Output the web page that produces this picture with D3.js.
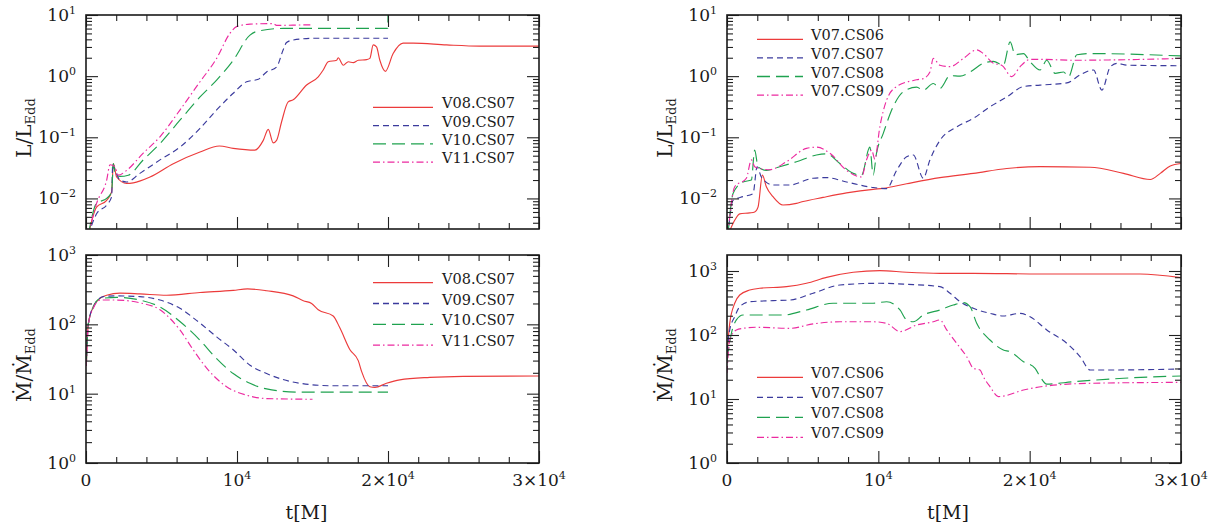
<!DOCTYPE html>
<html><head><meta charset="utf-8">
<script src="https://cdn.jsdelivr.net/npm/d3@7"></script>
<style>
body{margin:0;background:#fff}
svg{display:block}
text{font-family:"DejaVu Serif",serif;fill:#1a1a1a}
</style>
</head><body>
<svg id="c" width="1225" height="526"></svg>
<script>
// ---------------- DATA ----------------
const leftNames  = ["V08.CS07","V09.CS07","V10.CS07","V11.CS07"];
const rightNames = ["V07.CS06","V07.CS07","V07.CS08","V07.CS09"];

const xTickValues = [0, 10000, 20000, 30000];
const xTickBase   = ["0", "10", "2×10", "3×10"];
const xTickExp    = ["", "4", "4", "4"];

const lumTickValues = [10, 1, 0.1, 0.01];
const lumTickExp    = ["1", "0", "−1", "−2"];
const mdotTickValues = [1000, 100, 10, 1];
const mdotTickExp    = ["3", "2", "1", "0"];

// Top-left: L/L_Edd  [t, value]
const tlV08 = [[150,0.0025],[700,0.0072],[1370,0.0093],[1700,0.0129],[1810,0.037],[2030,0.0224],[2690,0.0176],[3130,0.018],[4240,0.0224],[5780,0.037],[7550,0.0575],[8830,0.072],[9750,0.066],[11190,0.0617],[11740,0.089],[12070,0.135],[12400,0.081],[12620,0.089],[12950,0.178],[13390,0.38],[13720,0.41],[14610,0.716],[15380,0.977],[15710,1.26],[16040,1.72],[16600,1.82],[16700,2.0],[17040,1.51],[17370,1.72],[17700,1.66],[18030,1.82],[18580,1.86],[18800,1.95],[19020,3.24],[19240,3.0],[19460,1.82],[19830,1.2],[20340,2.34],[21000,3.47],[21670,3.47],[23880,3.24],[26080,3.1],[30000,3.1]];
const tlV09 = [[150,0.0025],[700,0.0056],[1370,0.0078],[1700,0.0107],[1770,0.037],[1920,0.0295],[2250,0.02],[2690,0.0186],[3570,0.0257],[4900,0.0427],[6220,0.069],[7550,0.14],[8650,0.28],[9750,0.525],[10640,0.81],[11410,0.89],[11960,1.17],[12620,1.41],[13060,2.7],[13280,3.55],[13720,3.9],[15270,4.17],[20000,4.17]];
const tlV10 = [[150,0.0025],[700,0.0083],[1370,0.01],[1700,0.0129],[1810,0.037],[1920,0.025],[2250,0.0229],[2800,0.024],[3790,0.0427],[4900,0.079],[6220,0.19],[7550,0.457],[8650,0.86],[9750,1.82],[10860,4.68],[11300,5.37],[13060,6.03],[19990,6.03],[20000,11]];
const tlV11 = [[150,0.0025],[700,0.0083],[1370,0.02],[1590,0.0355],[1920,0.033],[2140,0.024],[2690,0.0288],[3790,0.055],[4900,0.102],[6220,0.279],[7550,0.81],[8650,1.95],[9530,5.0],[9970,6.46],[10860,7.08],[12400,7.24],[12620,6.76],[14830,6.9],[15000,6.9]];

// Bottom-left: Mdot/Mdot_Edd
const blV08 = [[20,25],[150,100],[480,178],[930,237],[1370,263],[2250,282],[3570,275],[5340,263],[7550,288],[9750,309],[10700,324],[11960,305],[13720,257],[14390,219],[14940,200],[15380,162],[16370,132],[16810,89],[17480,43],[18030,30],[18250,21],[18800,12.6],[19130,12.3],[19900,14.1],[20780,15.8],[22770,17.2],[24980,17.8],[30000,18]];
const blV09 = [[20,25],[150,100],[480,178],[1150,251],[2030,257],[3570,251],[4900,224],[6220,170],[7550,104],[8650,66],[9750,43],[10860,25.7],[11960,19.5],[14170,14.1],[16370,13.0],[20000,13.0]];
const blV10 = [[20,25],[150,100],[480,178],[930,234],[2030,245],[3570,224],[4900,178],[6220,110],[7550,59],[8650,32],[9750,19.5],[10860,14.1],[11960,11.7],[14170,10.5],[20000,10.5]];
const blV11 = [[20,25],[150,100],[480,170],[930,224],[2030,224],[3570,204],[4900,162],[6220,83],[7100,43],[7990,23.4],[9310,12.6],[10640,9.5],[11960,8.5],[15000,8.3]];

// Top-right: L/L_Edd
const trCS06 = [[60,0.0025],[510,0.0044],[840,0.0056],[1500,0.0058],[1830,0.006],[2050,0.0072],[2340,0.024],[2600,0.0155],[3040,0.0107],[3700,0.0078],[4590,0.0083],[5030,0.0089],[6350,0.0104],[7900,0.0123],[9660,0.0141],[10320,0.0146],[11870,0.0174],[14070,0.0219],[16280,0.0257],[18490,0.0309],[20690,0.0331],[24000,0.0324],[26200,0.0257],[27970,0.0204],[28630,0.0257],[29290,0.0339],[30000,0.0372]];
const trCS07 = [[60,0.0025],[400,0.0093],[1060,0.0107],[1720,0.012],[1990,0.033],[2270,0.0224],[3040,0.0166],[4150,0.0166],[5690,0.0214],[6580,0.0219],[7900,0.0186],[9660,0.0151],[10550,0.0145],[11210,0.0288],[11870,0.0479],[12310,0.0513],[12970,0.0214],[13410,0.0427],[14070,0.089],[15180,0.148],[16280,0.204],[17380,0.316],[18490,0.457],[19590,0.676],[20690,0.714],[22460,0.776],[23340,1.05],[24220,1.26],[24770,0.59],[25320,1.41],[25770,1.62],[26430,1.51],[30000,1.48]];
const trCS08 = [[60,0.0025],[400,0.012],[1060,0.0186],[1610,0.02],[1830,0.0617],[2050,0.033],[2600,0.0288],[3480,0.033],[4590,0.0398],[5910,0.0513],[6580,0.0537],[7460,0.0372],[8340,0.0257],[8890,0.024],[9440,0.069],[9660,0.024],[9880,0.055],[10320,0.115],[10980,0.316],[11650,0.556],[12530,0.66],[12970,0.589],[13630,0.759],[14070,0.631],[14740,1.02],[15400,1.0],[16060,1.17],[16940,1.62],[17600,1.74],[18260,1.51],[18710,3.63],[19040,2.24],[19590,2.34],[20030,1.72],[20690,1.26],[21130,1.82],[21680,1.11],[22240,1.17],[22570,0.98],[23120,2.24],[24000,2.34],[30000,2.14]];
const trCS09 = [[60,0.0025],[510,0.0155],[1280,0.0214],[1610,0.0427],[1830,0.033],[2160,0.0309],[2820,0.0295],[3930,0.0398],[5250,0.066],[5910,0.069],[6800,0.055],[7900,0.0288],[8890,0.0224],[9220,0.0427],[9560,0.0617],[9770,0.0437],[10100,0.148],[10550,0.407],[11210,0.676],[12530,0.871],[12970,0.912],[13410,1.17],[13630,1.95],[14070,1.51],[14740,1.43],[15620,1.95],[16500,2.69],[16940,2.34],[17600,1.62],[18150,1.51],[18820,0.98],[19370,1.43],[20030,1.88],[20690,1.88],[22900,1.82],[30000,1.95]];

// Bottom-right: Mdot/Mdot_Edd
const brCS06 = [[0,49],[180,152],[510,313],[840,422],[1500,504],[2160,537],[3930,569],[5250,643],[6580,795],[8340,955],[10100,1012],[11870,955],[14070,920],[16280,920],[20690,898],[27300,898],[30000,786]];
const brCS07 = [[0,54],[180,120],[510,193],[840,277],[1500,331],[3040,344],[4150,352],[5690,449],[7460,604],[10100,643],[11870,620],[14070,569],[14740,449],[15400,331],[16280,261],[17380,218],[18260,198],[19370,218],[20030,193],[21130,120],[22460,74],[23340,45.7],[24000,28.4],[25100,28.4],[30000,29.4]];
const brCS08 = [[0,40],[290,106],[620,172],[1060,205],[1940,205],[3700,205],[5250,246],[7010,313],[9660,313],[10550,331],[11430,246],[11870,172],[12310,161],[12970,205],[14070,246],[14950,294],[15620,320],[16060,277],[16500,152],[17380,83.5],[18260,58.3],[18710,54.9],[19590,38.3],[20360,30.2],[20690,22.3],[21130,17.1],[22900,18.6],[26200,21.1],[30000,22.9]];
const brCS09 = [[0,25.5],[180,83.5],[620,120],[1060,127],[1940,132],[4150,127],[5690,149],[7460,161],[9660,161],[10550,152],[11430,113],[12530,143],[13630,161],[14070,172],[14520,120],[15180,74],[15840,45.7],[16280,30.2],[16720,28.4],[16940,22.3],[17380,15.6],[17930,10.9],[18260,11.1],[19590,13.8],[21130,16],[24000,17.6],[30000,18.2]];

// ---------------- STYLE ----------------
const colors = ["#ec3b3b", "#3b3b9d", "#1fa24f", "#ec2aa0"];
const dashes = [null, "6,4", "13,6", "7,3,1.5,3"];

const svg = d3.select("#c");

function minorLogTicks(lo, hi) {
  const out = [];
  for (let d = Math.floor(Math.log10(lo)); d <= Math.ceil(Math.log10(hi)); d++) {
    for (let k = 2; k <= 9; k++) {
      const v = k * Math.pow(10, d);
      if (v > lo * 1.0001 && v < hi * 0.9999) out.push(v);
    }
  }
  return out;
}

let clipId = 0;
function panel(p) {
  const g = svg.append("g");
  const x = d3.scaleLinear().domain([0, 30000]).range([p.x0, p.x1]);
  const y = d3.scaleLog().domain(p.yDomain).range([p.y1, p.y0]);

  const id = "clip" + (clipId++);
  svg.append("clipPath").attr("id", id).append("rect")
    .attr("x", p.x0).attr("y", p.y0).attr("width", p.x1 - p.x0).attr("height", p.y1 - p.y0);

  // series
  const line = d3.line().x(d => x(d[0])).y(d => y(d[1])).curve(d3.curveMonotoneX);
  const cg = g.append("g").attr("clip-path", `url(#${id})`);
  p.series.forEach((s, i) => {
    cg.append("path").attr("d", line(s)).attr("fill", "none")
      .attr("stroke", colors[i]).attr("stroke-width", 1.15)
      .attr("stroke-dasharray", dashes[i]);
  });

  // ticks
  const xMinor = d3.range(2000, 30000, 2000).filter(v => v % 10000 !== 0);
  const yMajor = p.yTicks.filter(v => v >= p.yDomain[0] && v <= p.yDomain[1]);
  const yMinor = minorLogTicks(p.yDomain[0], p.yDomain[1]);
  const tickStyle = sel => { sel.select(".domain").remove(); sel.selectAll("line").attr("stroke", "#222").attr("stroke-width", 1.1); sel.selectAll("text").remove(); };

  g.append("g").attr("transform", `translate(0,${p.y1})`).call(d3.axisBottom(x).tickValues(xTickValues).tickSize(-12)).call(tickStyle);
  g.append("g").attr("transform", `translate(0,${p.y1})`).call(d3.axisBottom(x).tickValues(xMinor).tickSize(-6)).call(tickStyle);
  g.append("g").attr("transform", `translate(0,${p.y0})`).call(d3.axisTop(x).tickValues(xTickValues).tickSize(-12)).call(tickStyle);
  g.append("g").attr("transform", `translate(0,${p.y0})`).call(d3.axisTop(x).tickValues(xMinor).tickSize(-6)).call(tickStyle);
  g.append("g").attr("transform", `translate(${p.x0},0)`).call(d3.axisLeft(y).tickValues(yMajor).tickSize(-12)).call(tickStyle);
  g.append("g").attr("transform", `translate(${p.x0},0)`).call(d3.axisLeft(y).tickValues(yMinor).tickSize(-6)).call(tickStyle);
  g.append("g").attr("transform", `translate(${p.x1},0)`).call(d3.axisRight(y).tickValues(yMajor).tickSize(-12)).call(tickStyle);
  g.append("g").attr("transform", `translate(${p.x1},0)`).call(d3.axisRight(y).tickValues(yMinor).tickSize(-6)).call(tickStyle);

  // frame
  g.append("rect").attr("x", p.x0).attr("y", p.y0).attr("width", p.x1 - p.x0).attr("height", p.y1 - p.y0)
    .attr("fill", "none").attr("stroke", "#1a1a1a").attr("stroke-width", 1.6);

  // y tick labels
  p.yTicks.forEach((v, i) => {
    const t = g.append("text").attr("x", p.x0 - 10).attr("y", y(v) + 6)
      .attr("text-anchor", "end").attr("font-size", 17);
    t.append("tspan").text("10");
    t.append("tspan").attr("dy", -7).attr("font-size", 11).text(p.yExp[i]);
  });

  // x tick labels
  if (p.xLabels) {
    xTickValues.forEach((v, i) => {
      const t = g.append("text").attr("x", x(v)).attr("y", p.y1 + 23)
        .attr("text-anchor", "middle").attr("font-size", 17);
      t.append("tspan").text(xTickBase[i]);
      if (xTickExp[i]) t.append("tspan").attr("dy", -7).attr("font-size", 11).text(xTickExp[i]);
    });
    g.append("text").attr("x", (p.x0 + p.x1) / 2 - 6).attr("y", 519)
      .attr("text-anchor", "middle").attr("font-size", 19).text("t[M]");
  }

  // y title
  const cy = (p.y0 + p.y1) / 2 + 6;
  const yt = g.append("text").attr("transform", `translate(${p.x0 - 55},${cy}) rotate(-90)`)
    .attr("text-anchor", "middle").attr("font-size", 20);
  yt.append("tspan").text(p.yTitle);
  yt.append("tspan").attr("dy", 4).attr("font-size", 13).text("Edd");

  // legend
  p.names.forEach((n, i) => {
    const ly = p.legend.y + i * p.legend.dy;
    g.append("line").attr("x1", p.legend.x1).attr("x2", p.legend.x2).attr("y1", ly).attr("y2", ly)
      .attr("stroke", colors[i]).attr("stroke-width", 1.3).attr("stroke-dasharray", dashes[i]);
    g.append("text").attr("x", p.legend.tx).attr("y", ly + 1).attr("font-size", 14.5).text(n);
  });
}

const lumDomain = [Math.pow(10, -2.5), 10];
const mdotDomain = [1, 1000];
const mdotDomainRight = [1, Math.pow(10, 3.25)];

panel({x0: 86, x1: 539, y0: 15, y1: 229, yDomain: lumDomain, yTicks: lumTickValues, yExp: lumTickExp,
  series: [tlV08, tlV09, tlV10, tlV11], names: leftNames, yTitle: "L/L", xLabels: false,
  legend: {x1: 373, x2: 433, tx: 442, y: 107.3, dy: 18.3}});
panel({x0: 86, x1: 539, y0: 255, y1: 463, yDomain: mdotDomain, yTicks: mdotTickValues, yExp: mdotTickExp,
  series: [blV08, blV09, blV10, blV11], names: leftNames, yTitle: "Ṁ/Ṁ", xLabels: true,
  legend: {x1: 373, x2: 433, tx: 442, y: 282.7, dy: 20.8}});
panel({x0: 727, x1: 1181, y0: 15, y1: 229, yDomain: lumDomain, yTicks: lumTickValues, yExp: lumTickExp,
  series: [trCS06, trCS07, trCS08, trCS09], names: rightNames, yTitle: "L/L", xLabels: false,
  legend: {x1: 757, x2: 803, tx: 811, y: 39.3, dy: 18.6}});
panel({x0: 727, x1: 1181, y0: 255, y1: 463, yDomain: mdotDomainRight, yTicks: mdotTickValues, yExp: mdotTickExp,
  series: [brCS06, brCS07, brCS08, brCS09], names: rightNames, yTitle: "Ṁ/Ṁ", xLabels: true,
  legend: {x1: 757, x2: 803, tx: 811, y: 377.3, dy: 20}});
</script>
</body></html>
